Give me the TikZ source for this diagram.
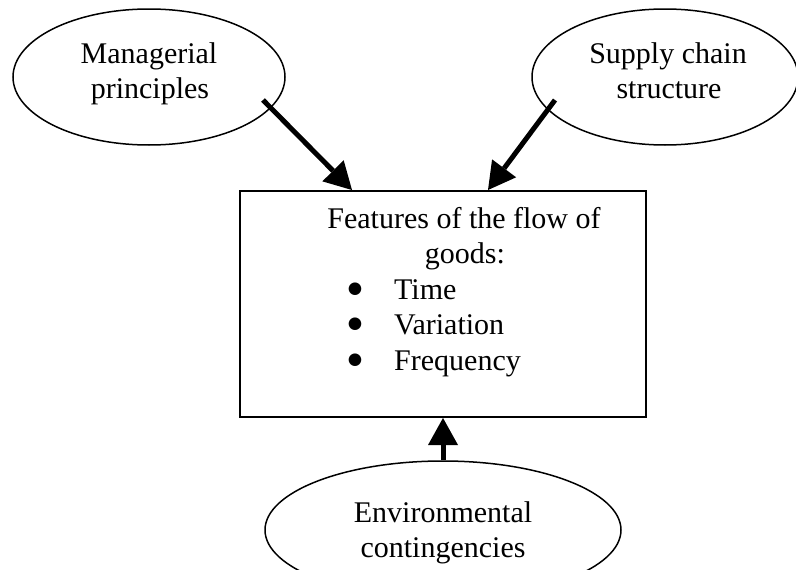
\documentclass[tikz,border=0pt]{standalone}
\usepackage{fontspec}
\setmainfont{Liberation Serif}
\newfontfamily\symfont{DejaVu Sans}
\usetikzlibrary{arrows.meta,shapes.geometric,calc}
\begin{document}
\begin{tikzpicture}[x=1pt,y=-1pt,
  oval/.style={draw, ellipse, line width=1.5pt, inner sep=0pt},
  lbl/.style={anchor=base, inner sep=0pt, font=\fontsize{30}{35.5}\selectfont},
  item/.style={lbl, anchor=base west},
  dot/.style={anchor=center, inner sep=0pt, font=\symfont\fontsize{16.5}{16.5}\selectfont},
  arr/.style={line width=5pt, -{Triangle[length=27pt,width=30pt,line width=0pt]}},
]
\useasboundingbox (0,0) rectangle (796,570);
\fill[white] (0,0) rectangle (796,570);

% influencing factors and the central box
\node[oval, minimum width=272pt, minimum height=136pt] (ml) at (149,77) {};
\node[oval, minimum width=266pt, minimum height=136pt] (sc) at (665,77) {};
\node[draw, line width=2pt, minimum width=406pt, minimum height=226pt,
      inner sep=0pt, anchor=north west] (feat) at (239,190) {};
\node[oval, minimum width=356pt, minimum height=138pt] (ec) at (443,530) {};

% labels
\node[lbl] (ml1) at (149,63) {Managerial};
\node[lbl] (ml2) at (150,98) {principles};
\node[lbl] (sc1) at (668,63) {Supply chain};
\node[lbl] (sc2) at (669,98) {structure};
\node[lbl] (ft1) at (464,228) {Features of the flow of};
\node[lbl] (ft2) at (465,263.5) {goods:};
\node[dot] (b1) at (355,289) {●};
\node[dot] (b2) at (355,324.5) {●};
\node[dot] (b3) at (355,360) {●};
\node[item] (i1) at (394,299) {Time};
\node[item] (i2) at (394,334.5) {Variation};
\node[item] (i3) at (394,370) {Frequency};
\node[lbl] (ec1) at (443,522) {Environmental};
\node[lbl] (ec2) at (443,557) {contingencies};

% arrows into the box
\coordinate (s1) at ($(ml.center)+(114,23)$);
\coordinate (s2) at ($(sc.center)+(-110,23)$);
\draw[arr] (s1) -- ($(feat.north west)+(113,0)$);
\draw[arr] (s2) -- ($(feat.north west)+(249,0)$);
\draw[arr] (ec.north) -- (ec.north |- feat.south);
\end{tikzpicture}
\end{document}
